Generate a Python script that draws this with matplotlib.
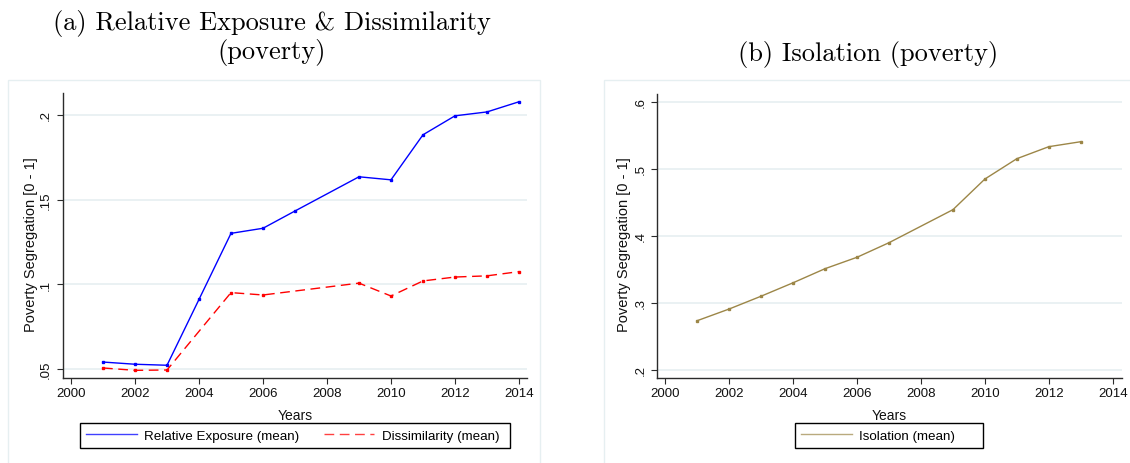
import matplotlib.pyplot as plt
import matplotlib as mpl
from matplotlib.patches import Rectangle
from matplotlib.lines import Line2D

# Relative exposure and dissimilarity (panel a)
years_rel = [2001, 2002, 2003, 2004, 2005, 2006, 2007, 2009, 2010, 2011, 2012, 2013, 2014]
rel_exposure = [0.0541, 0.0528, 0.0522, 0.0911, 0.1301, 0.1331, 0.1433,
                0.1635, 0.1617, 0.1883, 0.1995, 0.2018, 0.2078]

years_dis = [2001, 2002, 2003, 2005, 2006, 2009, 2010, 2011, 2012, 2013, 2014]
dissimilarity = [0.0506, 0.0492, 0.0494, 0.0951, 0.0937, 0.1007,
                 0.0931, 0.1020, 0.1043, 0.1050, 0.1075]

# Isolation (panel b)
years_iso = [2001, 2002, 2003, 2004, 2005, 2006, 2007, 2009, 2010, 2011, 2012, 2013]
isolation = [0.2735, 0.2909, 0.3100, 0.3300, 0.3510, 0.3680, 0.3897,
             0.4389, 0.4846, 0.5149, 0.5328, 0.5402]

xticks = [2000, 2002, 2004, 2006, 2008, 2010, 2012, 2014]
yticks_a = [0.05, 0.1, 0.15, 0.2]
ytick_labels_a = [".05", ".1", ".15", ".2"]
yticks_b = [0.2, 0.3, 0.4, 0.5, 0.6]
ytick_labels_b = [".2", ".3", ".4", ".5", ".6"]

blue = "#0000ff"
red = "#ff0000"
olive = "#9c8647"
dash = (0, (7, 4))

mpl.rcParams["font.family"] = ["Liberation Sans", "DejaVu Sans"]

W, H = 1130, 464
fig = plt.figure(figsize=(W / 100, H / 100), dpi=100)
fig.patch.set_facecolor("white")


def px(x0, y0, x1, y1):
    # pixel box (top-left origin) -> figure fraction rect
    return [x0 / W, 1 - y1 / H, (x1 - x0) / W, (y1 - y0) / H]


# light frames around each panel
for x0, x1 in [(8, 540), (604, 1140)]:
    fig.patches.append(Rectangle((x0 / W, 1 - 475 / H), (x1 - x0) / W, (475 - 80.7) / H,
                                 transform=fig.transFigure, fill=False,
                                 edgecolor="#e6eff1", linewidth=1.0))

ax1 = fig.add_axes(px(62.7, 94.3, 527.3, 379.3))
ax2 = fig.add_axes(px(657.3, 95.0, 1121.7, 379.3))

ax1.plot(years_rel, rel_exposure, color=blue, linewidth=1.0, marker="s", markersize=2)
ax1.plot(years_dis, dissimilarity, color=red, linewidth=1.0, linestyle=dash,
         marker="s", markersize=2)
ax2.plot(years_iso, isolation, color=olive, linewidth=1.0, marker="s", markersize=1.6)

ax1.set_xlim(1999.74, 2014.26)
ax1.set_ylim(0.0445, 0.2128)
ax1.set_yticks(yticks_a)
ax1.set_yticklabels(ytick_labels_a)

ax2.set_xlim(1999.75, 2014.28)
ax2.set_ylim(0.1876, 0.6113)
ax2.set_yticks(yticks_b)
ax2.set_yticklabels(ytick_labels_b)

for ax, lx in [(ax1, -0.069), (ax2, -0.0717)]:
    ax.set_xticks(xticks)
    ax.set_xticklabels([str(t) for t in xticks])
    ax.spines["top"].set_visible(False)
    ax.spines["right"].set_visible(False)
    for s in ["left", "bottom"]:
        ax.spines[s].set_color("#2b2b2b")
        ax.spines[s].set_linewidth(1.0)
    ax.tick_params(axis="both", direction="out", length=4.2, width=0.8,
                   color="#2b2b2b", labelsize=9.5, labelcolor="#111111")
    ax.tick_params(axis="x", pad=1.8)
    ax.tick_params(axis="y", pad=3.5, labelrotation=90)
    for lab in ax.get_yticklabels():
        lab.set_va("center")
    ax.yaxis.grid(True, color="#e8f0f2", linewidth=1.3)
    ax.set_axisbelow(True)
    ax.set_xlabel("Years", fontsize=10, color="#111111")
    ax.xaxis.label.set_va("center")
    ax.xaxis.set_label_coords(0.5, -0.1288)
    ax.set_ylabel("Poverty Segregation [0 - 1]", fontsize=10.5, color="#111111")
    ax.yaxis.label.set_va("center")
    ax.yaxis.set_label_coords(lx, 0.473)

# legend keys are plain lines (no markers), boxes drawn square and black
handles_a = [Line2D([], [], color=blue, linewidth=1.0, alpha=0.75),
             Line2D([], [], color=red, linewidth=1.0, linestyle=dash, alpha=0.75)]
labels_a = ["Relative Exposure (mean)", "Dissimilarity (mean)"]
handles_b = [Line2D([], [], color=olive, linewidth=1.0, alpha=0.7)]
labels_b = ["Isolation (mean)"]

leg_kw = dict(frameon=False, loc="center left", fontsize=9.6, borderpad=0,
              borderaxespad=0, handlelength=3.8, handletextpad=0.57)
fig.legend(handles_a, labels_a, ncol=2, columnspacing=1.82,
           bbox_to_anchor=(86 / W, 1 - 436.8 / H), **leg_kw)
fig.legend(handles_b, labels_b, bbox_to_anchor=(801 / W, 1 - 436.8 / H), **leg_kw)
for x0, x1 in [(80, 510), (795, 983.3)]:
    fig.patches.append(Rectangle((x0 / W, 1 - 449.3 / H), (x1 - x0) / W, 25 / H,
                                 transform=fig.transFigure, fill=False,
                                 edgecolor="black", linewidth=1.0))

# panel titles
fig.text(272 / W, 1 - 38 / H, "(a) Relative Exposure & Dissimilarity\n(poverty)",
         family="cmr10", fontsize=19, ha="center", va="center", linespacing=1.1)
fig.text(868 / W, 1 - 55 / H, "(b) Isolation (poverty)",
         family="cmr10", fontsize=19, ha="center", va="center")

fig.savefig("out.png", dpi=100)
